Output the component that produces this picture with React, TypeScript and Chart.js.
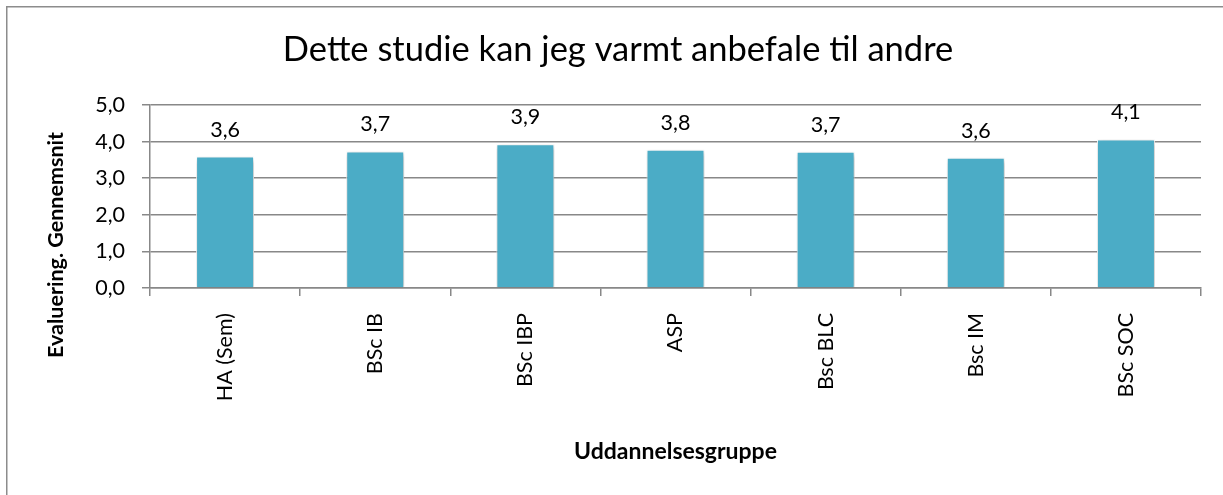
import React, { useEffect, useRef } from "react";
import { Chart, registerables } from "chart.js";

Chart.register(...registerables);

const categories = ["HA (Sem)", "BSc IB", "BSc IBP", "ASP", "Bsc BLC", "Bsc IM", "BSc SOC"];
const values = [3.59, 3.73, 3.93, 3.78, 3.72, 3.56, 4.06];
const yTickValues = [0, 1, 2, 3, 4, 5];
const chartTitle = "Dette studie kan jeg varmt anbefale til andre";
const xAxisTitle = "Uddannelsesgruppe";
const yAxisTitle = "Evaluering. Gennemsnit";

const FONT = "Lato, 'Open Sans', sans-serif";
const BAR_COLOR = "#4BACC6";
const GRID_COLOR = "#888888";
const TICK_SIZE = 21.5;
const fmt = (v: number) => v.toFixed(1).replace(".", ",");

export default function App() {
  const ref = useRef<HTMLCanvasElement | null>(null);

  useEffect(() => {
    if (!ref.current) return;

    const framePlugin = {
      id: "frame",
      beforeDraw(chart: any) {
        const { ctx, width, height } = chart;
        ctx.save();
        ctx.fillStyle = "#ffffff";
        ctx.fillRect(0, 0, width, height);
        ctx.strokeStyle = "#8c8c8c";
        ctx.lineWidth = 1.5;
        ctx.strokeRect(0.75, 0.75, width + 10, height + 10);
        ctx.restore();
      },
    };

    const barDecor = {
      id: "barDecor",
      beforeDatasetsDraw(chart: any) {
        const ctx = chart.ctx;
        ctx.save();
        ctx.shadowColor = "rgba(0,0,0,0.35)";
        ctx.shadowBlur = 5;
        ctx.shadowOffsetX = 1;
        ctx.shadowOffsetY = 2;
      },
      afterDatasetsDraw(chart: any) {
        const ctx = chart.ctx;
        ctx.restore();
        const meta = chart.getDatasetMeta(0);
        ctx.save();
        ctx.fillStyle = "#000000";
        ctx.font = `${TICK_SIZE}px ${FONT}`;
        ctx.textAlign = "center";
        ctx.textBaseline = "alphabetic";
        meta.data.forEach((bar: any, i: number) => {
          ctx.fillText(fmt(values[i]), bar.x, bar.y - 20);
        });
        ctx.restore();
      },
    };

    const yTitlePlugin = {
      id: "yTitle",
      afterDraw(chart: any) {
        const ctx = chart.ctx;
        ctx.save();
        ctx.translate(50, 239);
        ctx.rotate(-Math.PI / 2);
        ctx.fillStyle = "#000000";
        ctx.font = `bold 21.5px ${FONT}`;
        ctx.textAlign = "center";
        ctx.textBaseline = "middle";
        ctx.fillText(yAxisTitle, 0, 0);
        ctx.restore();
      },
    };

    const chart = new Chart(ref.current, {
      type: "bar",
      data: {
        labels: categories,
        datasets: [
          {
            data: values,
            backgroundColor: BAR_COLOR,
            borderColor: "#ffffff",
            borderWidth: 1,
            barPercentage: 1,
            categoryPercentage: 0.386,
          },
        ],
      },
      options: {
        responsive: false,
        animation: false,
        devicePixelRatio: 1,
        layout: { padding: { left: 29, right: 29, top: 0, bottom: 0 } },
        plugins: {
          legend: { display: false },
          tooltip: { enabled: false },
          title: {
            display: true,
            text: chartTitle,
            color: "#000000",
            font: { family: FONT, size: 34.5, weight: "normal", lineHeight: 1.2 },
            padding: { top: 23.3, bottom: 34.3 },
          },
        },
        scales: {
          x: {
            grid: {
              display: true,
              drawOnChartArea: false,
              drawTicks: true,
              tickLength: 8,
              offset: true,
              color: GRID_COLOR,
              lineWidth: 1.5,
            },
            border: { display: true, color: GRID_COLOR, width: 1.5 },
            ticks: {
              color: "#000000",
              font: { family: FONT, size: TICK_SIZE },
              minRotation: 90,
              maxRotation: 90,
              autoSkip: false,
              padding: 17,
            },
            title: {
              display: true,
              text: xAxisTitle,
              color: "#000000",
              font: { family: FONT, size: 23, weight: "bold", lineHeight: 1.2 },
              padding: { top: 0, bottom: 32.2 },
            },
            afterFit(scale: any) {
              scale.height = 210;
            },
          },
          y: {
            min: 0,
            max: 5,
            grid: {
              display: true,
              drawOnChartArea: true,
              drawTicks: true,
              tickLength: 8,
              color: GRID_COLOR,
              lineWidth: 1.5,
            },
            border: { display: true, color: GRID_COLOR, width: 1.5 },
            ticks: {
              color: "#000000",
              font: { family: FONT, size: TICK_SIZE },
              padding: 17,
              callback: (v: any) => fmt(Number(v)),
            },
            afterBuildTicks(scale: any) {
              scale.ticks = yTickValues.map((v) => ({ value: v }));
            },
            afterFit(scale: any) {
              scale.width = 115;
            },
          },
        },
      },
      plugins: [framePlugin, barDecor, yTitlePlugin],
    });

    return () => chart.destroy();
  }, []);

  return (
    <div
      style={{
        position: "fixed",
        left: 0,
        top: 0,
        width: 1223,
        height: 495,
        overflow: "hidden",
        background: "#ffffff",
      }}
    >
      <canvas
        ref={ref}
        width={1224}
        height={492}
        style={{ position: "absolute", left: 6, top: 6 }}
      />
    </div>
  );
}
